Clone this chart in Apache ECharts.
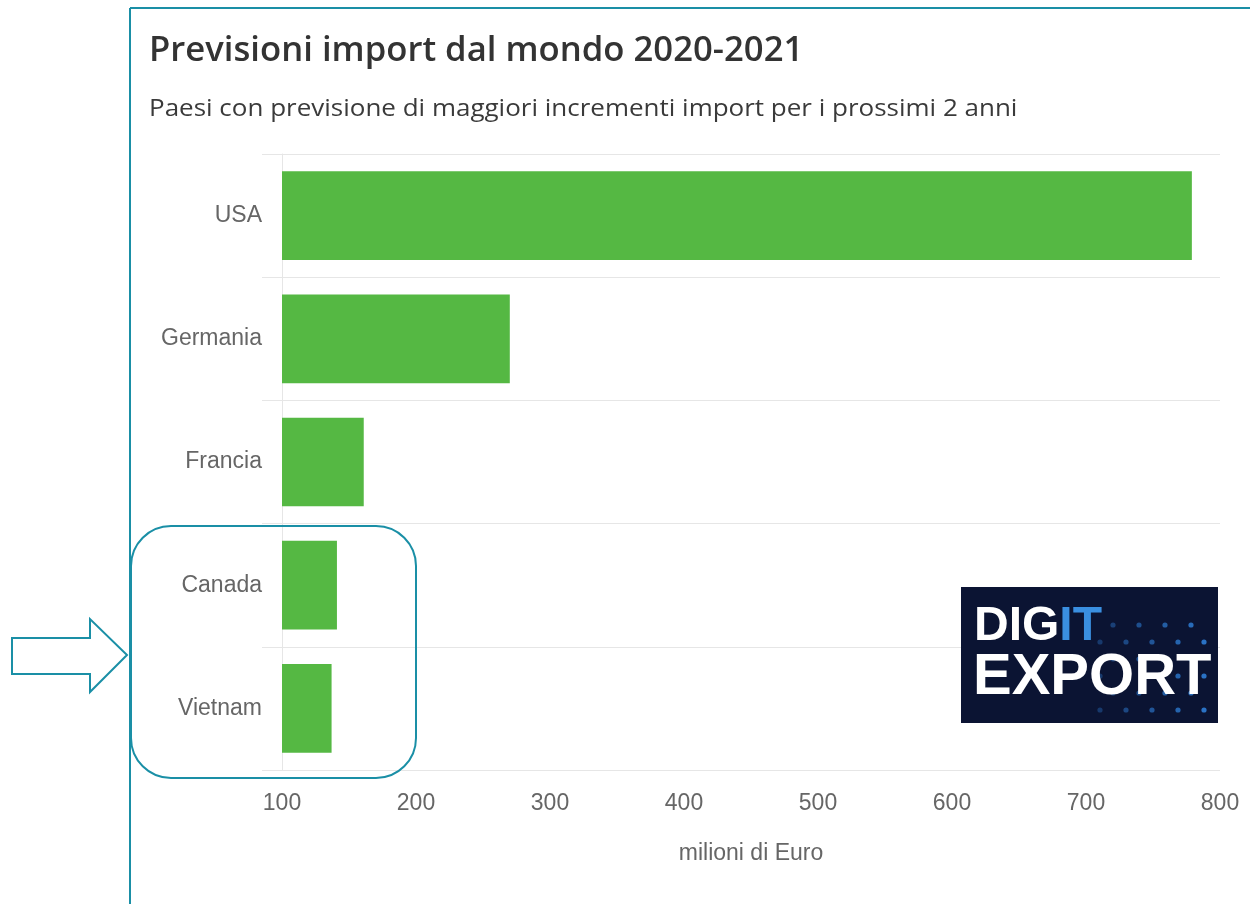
<!DOCTYPE html>
<html>
<head>
<meta charset="utf-8">
<script src="https://cdn.jsdelivr.net/npm/echarts@6/dist/echarts.min.js"></script>
<style>
html,body{margin:0;padding:0;background:#fff;}
#chart{width:1250px;height:904px;}
</style>
</head>
<body>
<div id="chart"></div>
<script>
const titleText = 'Previsioni import dal mondo 2020-2021';
const subtitleText = 'Paesi con previsione di maggiori incrementi import per i prossimi 2 anni';
const categories = ['USA', 'Germania', 'Francia', 'Canada', 'Vietnam'];
const importValues = [779, 270, 161, 141, 137];
const xTicks = [100, 200, 300, 400, 500, 600, 700, 800];
const xAxisName = 'milioni di Euro';

const teal = '#1a8fa6';
const gridColor = '#e6e6e6';

// decorative logo dots
const dots = [];
const dotCols = 9, dotRows = 6;
for (let c = 0; c < dotCols; c++) {
  for (let r = 0; r < dotRows; r++) {
    if ((c + r) % 2 === 0) continue;
    dots.push({
      type: 'circle',
      shape: {cx: 1100 + c * 13, cy: 625 + r * 17, r: 2.6},
      style: {fill: '#2f7fd8', opacity: 0.35 + 0.6 * (c / dotCols)},
      z: 101
    });
  }
}

const chart = echarts.init(document.getElementById('chart'), null, {renderer: 'canvas'});
chart.setOption({
  animation: false,
  backgroundColor: '#ffffff',
  grid: {left: 282, right: 30, top: 154, bottom: 134, containLabel: false},
  xAxis: {
    type: 'value',
    min: xTicks[0],
    max: xTicks[xTicks.length - 1],
    interval: 100,
    name: xAxisName,
    nameLocation: 'middle',
    nameGap: 72,
    nameTextStyle: {fontFamily: 'Liberation Sans', fontSize: 23, color: '#666666'},
    axisLine: {show: false},
    axisTick: {show: false},
    splitLine: {show: false},
    axisLabel: {fontFamily: 'Liberation Sans', fontSize: 23, color: '#666666', margin: 22}
  },
  yAxis: {
    type: 'category',
    data: categories,
    inverse: true,
    axisLine: {show: true, lineStyle: {color: gridColor, width: 1}},
    axisTick: {show: true, length: 20, lineStyle: {color: gridColor, width: 1}},
    splitLine: {show: true, lineStyle: {color: gridColor, width: 1}},
    axisLabel: {fontFamily: 'Liberation Sans', fontSize: 23, color: '#666666', margin: 20}
  },
  series: [{
    type: 'bar',
    data: importValues,
    barCategoryGap: '28%',
    itemStyle: {color: '#55b843'}
  }],
  graphic: [
    {type: 'text', x: 149, y: 34, scaleX: 1.02, z: 100,
      style: {text: titleText, fontFamily: 'Open Sans', fontSize: 34, fontWeight: 600, fill: '#333333', verticalAlign: 'top', align: 'left'}},
    {type: 'text', x: 149, y: 98, scaleX: 1.13, z: 100,
      style: {text: subtitleText, fontFamily: 'Open Sans', fontSize: 23, fontWeight: 'normal', fill: '#3a3a3a', verticalAlign: 'top', align: 'left'}},
    {type: 'line', shape: {x1: 130, y1: 8, x2: 130, y2: 904}, style: {stroke: teal, lineWidth: 2}, z: 100},
    {type: 'line', shape: {x1: 130, y1: 8, x2: 1250, y2: 8}, style: {stroke: teal, lineWidth: 2}, z: 100},
    {type: 'polygon', shape: {points: [[12, 638], [90, 638], [90, 619], [127, 655], [90, 692], [90, 674], [12, 674]]},
      style: {fill: 'none', stroke: teal, lineWidth: 2}, z: 100},
    {type: 'rect', shape: {x: 131, y: 526, width: 285, height: 252, r: 40},
      style: {fill: 'none', stroke: teal, lineWidth: 2}, z: 100},
    {type: 'rect', shape: {x: 961, y: 587, width: 257, height: 136}, style: {fill: '#0b1433'}, z: 100},
    ...dots,
    {type: 'text', left: 974, top: 603, z: 102,
      style: {
        text: '{w|DIG}{b|IT}',
        rich: {
          w: {fontFamily: 'Liberation Sans', fontWeight: 'bold', fontSize: 48, fill: '#ffffff'},
          b: {fontFamily: 'Liberation Sans', fontWeight: 'bold', fontSize: 48, fill: '#3a8fe0'}
        }
      }},
    {type: 'text', left: 973, top: 649, z: 102,
      style: {text: 'EXPORT', fontFamily: 'Liberation Sans', fontWeight: 'bold', fontSize: 58, fill: '#ffffff'}}
  ]
});
</script>
</body>
</html>
